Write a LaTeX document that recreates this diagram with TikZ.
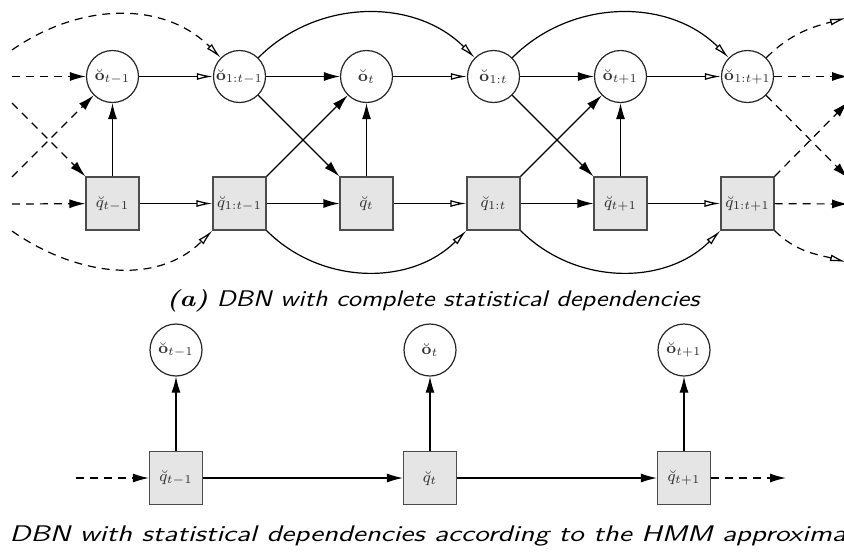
\documentclass[tikz,border=0pt]{standalone}
\usepackage{tikz}
\usetikzlibrary{positioning}
\usetikzlibrary{arrows.meta}
\usepackage{amsmath}

\begin{document}
\begin{tikzpicture}[x=0.5pt, y=-0.5pt, ->, >={Latex[length=8pt,width=4.5pt]}, line width=0.6pt,
		node distance=63.5pt,
		obs/.style={draw=black!85, circle, minimum size=26pt, inner sep=0pt, font=\footnotesize, text=black!80},
		hid/.style={draw=black!70, rectangle, fill=black!10, minimum size=26.5pt, inner sep=0pt, font=\footnotesize, text=black!80},
		opentip/.style={-{Latex[open,length=8pt,width=3.5pt]}},
		dashline/.style={dash pattern=on 4pt off 3pt},
		captext/.style={font=\fontsize{11.3}{13}\selectfont\sffamily\slshape, inner sep=0pt}]
		\clip (0,0) rectangle (844,552);
		% (a) complete dependencies
		\node (o0) at (112.5,76.5) [obs] {$\breve{\mathbf{o}}_{t-1}$};
		\node (oc0) [obs, right of = o0] {$\breve{\mathbf{o}}_{1:t-1}$};
		\node (o1) [obs, right of = oc0] {$\breve{\mathbf{o}}_{t}$};
		\node (oc1) [obs, right of = o1] {$\breve{\mathbf{o}}_{1:t}$};
		\node (o2) [obs, right of = oc1] {$\breve{\mathbf{o}}_{t+1}$};
		\node (oc2) [obs, right of = o2] {$\breve{\mathbf{o}}_{1:t+1}$};
		\node (q0) [hid, below of = o0] {$\breve{q}_{t-1}$};
		\node (qc0) [hid, below of = oc0] {$\breve{q}_{1:t-1}$};
		\node (q1) [hid, below of = o1] {$\breve{q}_{t}$};
		\node (qc1) [hid, below of = oc1] {$\breve{q}_{1:t}$};
		\node (q2) [hid, below of = o2] {$\breve{q}_{t+1}$};
		\node (qc2) [hid, below of = oc2] {$\breve{q}_{1:t+1}$};
		\coordinate (lo) at (12,76.5);
		\coordinate (lq) at (12,204);
		\coordinate (lod) at (12,103);
		\coordinate (lqd) at (12,177);
		\coordinate (loc) at (12,50);
		\coordinate (lqc) at (12,231);
		\coordinate (ro) at (848,76.5);
		\coordinate (rq) at (848,204);
		\coordinate (rod) at (848,178);
		\coordinate (rqd) at (848,102);
		\coordinate (roc) at (846,18);
		\coordinate (rqc) at (846,262);
		\draw [dashline] (lo) -> (o0);
		\draw [dashline] (lq) -> (q0);
		\draw [dashline] (lod) -> (q0.north west);
		\draw [dashline] (lqd) -> (o0);
		\draw [dashline, opentip] (loc) to[out=35, in=135] (oc0);
		\draw [dashline, opentip] (lqc) to[out=-35, in=-135] (qc0.south west);
		\draw (q0) -> (o0);
		\draw [opentip] (o0) -> (oc0);
		\draw [opentip] (q0) -> (qc0);
		\draw (oc0) -> (o1);
		\draw (oc0) -> (q1.north west);
		\draw (qc0.north east) -> (o1);
		\draw (qc0) -> (q1);
		\draw (q1) -> (o1);
		\draw [opentip] (o1) -> (oc1);
		\draw [opentip] (q1) -> (qc1);
		\draw [opentip] (oc0) to[out=45, in=135] (oc1);
		\draw [opentip] (qc0.south east) to[out=-45, in=-135] (qc1.south west);
		\draw (oc1) -> (o2);
		\draw (oc1) -> (q2.north west);
		\draw (qc1.north east) -> (o2);
		\draw (qc1) -> (q2);
		\draw (q2) -> (o2);
		\draw [opentip] (o2) -> (oc2);
		\draw [opentip] (q2) -> (qc2);
		\draw [opentip] (oc1) to[out=45, in=135] (oc2);
		\draw [opentip] (qc1.south east) to[out=-45, in=-135] (qc2.south west);
		\draw [dashline] (oc2) -> (ro);
		\draw [dashline] (qc2) -> (rq);
		\draw [dashline] (oc2) -> (rod);
		\draw [dashline] (qc2.north east) -> (rqd);
		\draw [dashline, opentip] (oc2) to[out=45, in=195] (roc);
		\draw [dashline, opentip] (qc2.south east) to[out=-45, in=165] (rqc);
		\node (capa) at (433,301) [captext] {\scalebox{1.19}[1]{{\rmfamily\bfseries\itshape (a)} DBN with complete statistical dependencies}};
		% (b) HMM approximation
		\node (ho0) at (176,350) [obs] {$\breve{\mathbf{o}}_{t-1}$};
		\node (ho1) [obs, right of = ho0, xshift=63.5pt] {$\breve{\mathbf{o}}_{t}$};
		\node (ho2) [obs, right of = ho1, xshift=63.5pt] {$\breve{\mathbf{o}}_{t+1}$};
		\node (hq0) [hid, below of = ho0, yshift=-0.5pt] {$\breve{q}_{t-1}$};
		\node (hq1) [hid, below of = ho1, yshift=-0.5pt] {$\breve{q}_{t}$};
		\node (hq2) [hid, below of = ho2, yshift=-0.5pt] {$\breve{q}_{t+1}$};
		\coordinate (hl) at (76,478);
		\coordinate (hr) at (786,478);
		\draw [dashline] (hl) -> (hq0);
		\draw (hq0) -> (hq1);
		\draw (hq1) -> (hq2);
		\draw [dashline] (hq2) -> (hr);
		\draw (hq0) -> (ho0);
		\draw (hq1) -> (ho1);
		\draw (hq2) -> (ho2);
		\node (capb) at (9,536) [captext, anchor=west] {\scalebox{1.315}[1]{DBN with statistical dependencies according to the HMM approxima}};
\end{tikzpicture}
\end{document}
